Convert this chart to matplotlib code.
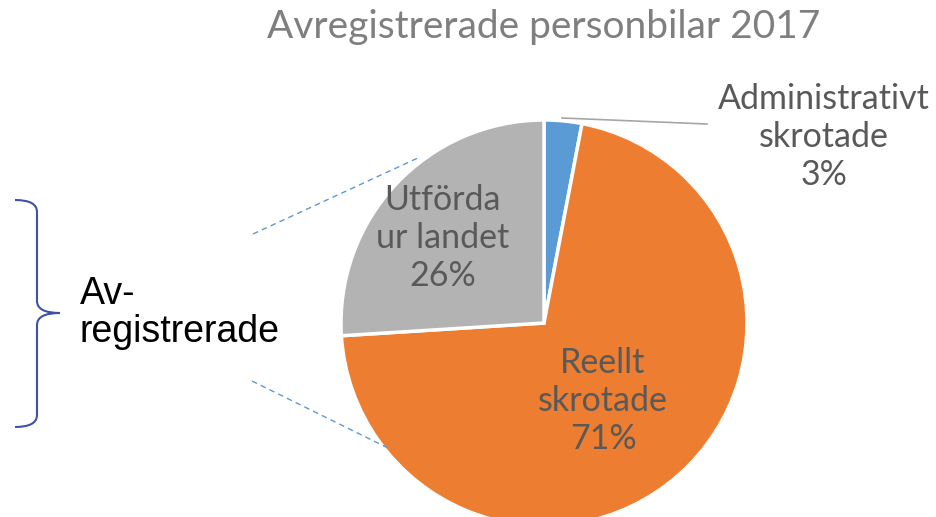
import matplotlib
matplotlib.use('Agg')
import matplotlib.pyplot as plt
from matplotlib.path import Path
from matplotlib.patches import PathPatch

title = 'Avregistrerade personbilar 2017'
categories = ['Administrativt\nskrotade', 'Reellt\nskrotade', 'Utförda\nur landet']
values = [3, 71, 26]
colors = ['#5B9BD5', '#ED7D31', '#B3B3B3']

W, H = 937, 517
fig = plt.figure(figsize=(W / 100, H / 100), dpi=100)
ax = fig.add_axes([0, 0, 1, 1])

cx, cy, r = 544, H - 323, 203
ax.pie(values, colors=colors, startangle=90, counterclock=False,
       center=(cx, cy), radius=r, frame=True,
       wedgeprops=dict(edgecolor='white', linewidth=2.5))
ax.set_xlim(0, W)
ax.set_ylim(0, H)
ax.set_aspect('equal')
ax.axis('off')

font = 'Lato'
ax.text(cx, H - 27, title, ha='center', va='center', fontsize=28,
        color='#7F7F7F', family=font)

lab_pos = [(824, H - 137), (603, H - 401), (443, H - 238)]
for cat, v, (x, y) in zip(categories, values, lab_pos):
    ax.text(x, y, f'{cat}\n{v}%', ha='center', va='center', fontsize=24.5,
            color='#595959', family=font, linespacing=1.22)

# leader line for the small slice
ax.plot([562, 707], [H - 118, H - 124], color='#A6A6A6', lw=1.2)

# dashed lines toward the grouped slices
ax.plot([253, 420], [H - 234, H - 157], color='#5B9BD5', lw=1, ls=(0, (4, 3)))
ax.plot([252, 392], [H - 381, H - 450], color='#5B9BD5', lw=1, ls=(0, (4, 3)))

# curly brace
top, mid, bot = H - 200, H - 313, H - 427
verts = [(15, top), (37, top), (37, top - 12), (37, mid + 12),
         (37, mid), (60, mid),
         (37, mid), (37, mid - 12), (37, bot + 12),
         (37, bot), (15, bot)]
codes = [Path.MOVETO, Path.CURVE3, Path.CURVE3, Path.LINETO,
         Path.CURVE3, Path.CURVE3,
         Path.CURVE3, Path.CURVE3, Path.LINETO,
         Path.CURVE3, Path.CURVE3]
ax.add_patch(PathPatch(Path(verts, codes), fill=False, edgecolor='#3F51A6', lw=1.5))

ax.text(80, H - 313, 'Av-\nregistrerade', ha='left', va='center', fontsize=27,
        color='black', family='Liberation Sans', linespacing=1.05)

fig.savefig('out.png', dpi=100)
